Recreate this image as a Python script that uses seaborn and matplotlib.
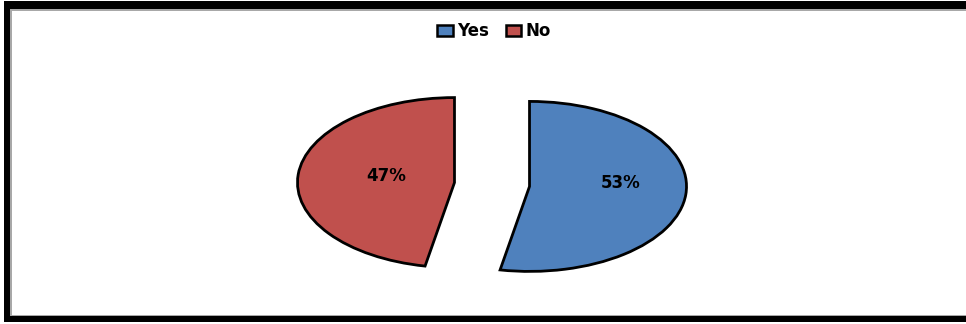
import numpy as np
import matplotlib
matplotlib.use("Agg")
import matplotlib.pyplot as plt
from matplotlib.patches import Rectangle
import seaborn as sns

# Survey answers
categories = ["Yes", "No"]
shares = [53, 47]
colors = ["#4F81BD", "#C0504D"]

sns.set_theme(style="white")
plt.rcParams["font.family"] = ["DejaVu Sans"]
plt.rcParams["text.color"] = "black"

W, H = 966, 324
fig = plt.figure(figsize=(W / 100, H / 100), dpi=100)
fig.patch.set_facecolor("white")


def px_rect(x0, y0_top, x1, y1_top, color):
    """Rectangle given in pixel coordinates measured from the top-left corner."""
    fig.patches.append(Rectangle((x0 / W, 1 - y1_top / H), (x1 - x0) / W,
                                 (y1_top - y0_top) / H, transform=fig.transFigure,
                                 facecolor=color, edgecolor="none", zorder=0))


# Chart frame: heavy black border with a thin grey inner line
px_rect(4, 1, W, 9, "black")
px_rect(4, 1, 10, 322, "black")
px_rect(4, 316, W, 322, "black")
px_rect(10, 9, W, 10.5, "#a8a8a8")
px_rect(10, 9, 11.5, 316, "#a8a8a8")
px_rect(10, 314.5, W, 316, "#a8a8a8")

# Pie area: 1 data unit = 157 px horizontally, 85 px vertically (elliptical pie)
rx, ry = 157, 85
cx, cy = 492, 184.5
aw, ah = 3 * rx, 3 * ry
ax = fig.add_axes([(cx - aw / 2) / W, (H - cy - ah / 2) / H, aw / W, ah / H])

wedges, texts, autotexts = ax.pie(
    shares, colors=colors, startangle=90, counterclock=False,
    explode=[0.24, 0.24], autopct=lambda p: f"{p:.0f}%",
    wedgeprops=dict(edgecolor="black", linewidth=2),
    textprops=dict(fontsize=12, fontweight="bold", color="black"),
)
ax.set_aspect("auto")
ax.set_xlim(-1.5, 1.5)
ax.set_ylim(-1.5, 1.5)
ax.axis("off")

# Place the percentage labels inside each wedge (distance along mid-angle, lift)
label_place = [(0.58, 0.10), (0.44, 0.04)]
for w, t, (d, lift) in zip(wedges, autotexts, label_place):
    mid = np.deg2rad((w.theta1 + w.theta2) / 2)
    x0, y0 = w.center
    t.set_position((x0 + d * np.cos(mid), y0 + d * np.sin(mid) + lift))

leg = fig.legend(wedges, categories, loc="center", bbox_to_anchor=(494 / W, 1 - 31 / H),
                 ncol=2, frameon=False, handlelength=0.95, handleheight=0.65,
                 handletextpad=0.25, columnspacing=1.0,
                 prop=dict(size=12, weight="bold"))
for h in leg.legend_handles:
    h.set_linewidth(1.8)
for t in leg.get_texts():
    t.set_color("black")

fig.savefig("out.png", dpi=100, facecolor="white")
